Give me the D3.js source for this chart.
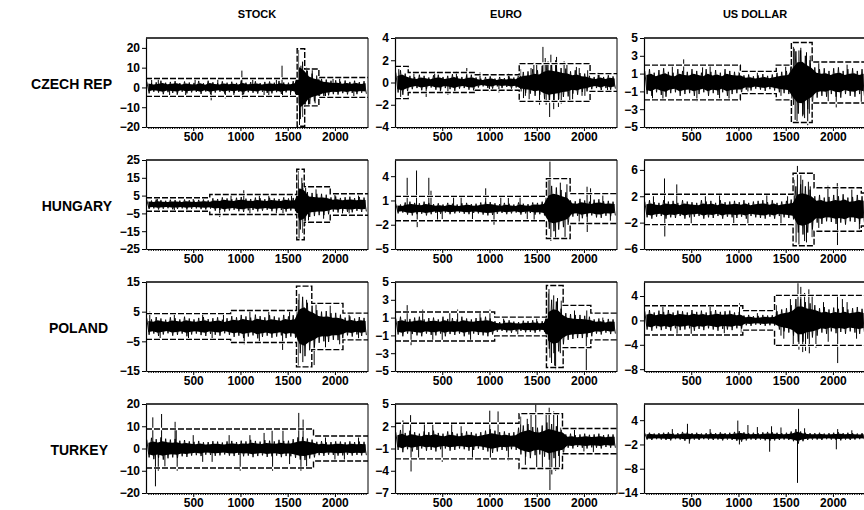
<!DOCTYPE html>
<html>
<head>
<meta charset="utf-8">
<script src="https://cdn.jsdelivr.net/npm/d3@7"></script>
<style>
  body { margin: 0; background: #fff; }
  svg text { font-family: "Liberation Sans", Arial, sans-serif; font-weight: bold; fill: #000; }
</style>
</head>
<body>
<div id="chart"></div>
<script>
// layout of the grid
var columns = ["STOCK", "EURO", "US DOLLAR"];
var rows = ["CZECH REP", "HUNGARY", "POLAND", "TURKEY"];
var xTicks = [500, 1000, 1500, 2000];
var xDomain = [0, 2350];
var binSize = 50; // amplitude arrays: one value per 50 observations

// ---- Czech Republic
var czStockRange = [-20, 25], czStockTicks = [-20, -10, 0, 10, 20];
var czStockBreaks = [1600, 1680, 1830], czStockBands = [4.5, 19.6, 9.3, 5];
var czStockAmp = [3,2.2,2.6,3.4,2.4,2.8,3.2,2.2,3,2.5, 2.3,3.3,2.1,3.4,2.6,2.2,3.1,2.4,2.9,2.3,
  3.5,2.4,2.7,3.1,2.2,2.8,3,2.4,3.3,2.5, 2.4,3.2, 16,13, 8.5,7,6, 4.5,4,3.4,3.6,2.9,3.5,2.8,3.4,2.7,3.2];
var czStockSpikes = [[60,3.8],[130,4.5],[250,-5],[330,-4],[420,-4.5],[520,4],[690,-6.5],[760,4.2],[840,-5.5],
  [930,-4],[1015,8.5],[1020,-5.5],[1130,4],[1250,-4.5],[1300,-5],[1380,4],[1440,11],[1445,-5],[1530,-4.2],
  [1615,19],[1625,-19.5],[1640,11],[1660,-15],[1700,10],[1720,-9],[1760,9],[1790,-8],[1830,7],[1900,-5],
  [1980,4.5],[2050,5],[2200,-4.5]];

var czEuroRange = [-4, 4], czEuroTicks = [-4, -2, 0, 2, 4];
var czEuroBreaks = [140, 850, 1315, 2065], czEuroBands = [1.45, 0.9, 0.7, 1.7, 0.8];
var czEuroAmp = [0.9,1.1,0.8, 0.6,0.5,0.7,0.6,0.45,0.65,0.7,0.5,0.6,0.75,0.55,0.5,0.65,0.7,
  0.45,0.35,0.5,0.55,0.35,0.5,0.4,0.55,0.45, 0.8,0.95,1.0,1.2,1.1,1.5,1.7,1.6,1.5,1.3,1.25,1.0,1.1,0.85,0.8,
  0.6,0.5,0.7,0.5,0.65,0.55];
var czEuroSpikes = [[40,1.2],[60,-1.3],[200,0.9],[330,-1.3],[420,1.0],[480,-0.9],[560,-1.1],[650,1.0],
  [760,1.3],[900,0.9],[1000,-0.8],[1100,-0.9],[1200,0.8],[1330,1.2],[1360,-1.4],[1380,-1.2],[1420,-1.5],
  [1440,1.3],[1470,1.8],[1500,1.6],[1530,-2.0],[1566,3.2],[1590,2.2],[1600,-2.0],[1620,1.9],[1637,-3.1],
  [1650,2.5],[1680,-2.4],[1700,2.0],[1710,2.3],[1730,-2.2],[1760,-1.9],[1790,1.9],[1820,1.7],[1850,-1.7],
  [1880,-1.5],[1920,1.4],[1950,1.3],[1980,-1.2],[2010,-1.2],[2040,1.1],[2150,0.9],[2250,-0.8]];

var czUsdRange = [-5, 5], czUsdTicks = [-5, -3, -1, 1, 3, 5];
var czUsdBreaks = [1020, 1400, 1560, 1780], czUsdBands = [1.95, 1.25, 1.95, 4.5, 2.3];
var czUsdAmp = [1.3,1.5,1.1,1.4,1.6,1.2,1.1,1.5,1.3,1.2, 1.5,1.3,1.1,1.5,1.2,1.4,1.1,1.5,1.3,1.2,
  1.2, 0.8,0.9,0.7,0.8,0.95,0.75,0.9, 1.1,1.2,1.3, 2.5,3.5,3.6,3.0,2.5,
  1.7,1.5,1.6,1.3,1.6,1.7,1.3,1.5,1.6,1.3,1.5];
var czUsdSpikes = [[90,-1.8],[200,-2.0],[300,1.8],[420,2.6],[560,-2.1],[620,1.7],[700,1.9],[800,-1.8],[900,-2.0],
  [1100,-1.0],[1200,1.3],[1450,-1.5],[1500,1.8],[1565,-3.5],[1580,4.0],[1590,3.8],[1600,-4.2],[1620,-4.4],
  [1640,3.6],[1660,3.9],[1680,-3.8],[1700,-4.0],[1720,3.4],[1733,-4.8],[1750,-3.5],[1760,3.0],[1850,2.2],
  [1950,-2.1],[2035,-2.8],[2150,2.0],[2300,-2.2]];

// ---- Hungary
var huStockRange = [-25, 25], huStockTicks = [-25, -15, -5, 5, 15, 25];
var huStockBreaks = [675, 1596, 1675, 1950], huStockBands = [3.8, 5.6, 19.8, 10, 6];
var huStockAmp = [2.5,2.2,2.8,2.4,2.1,2.7,2.5,2.2,2.8,2.4,2.2,2.6,2.8,2.3,
  3.5,3.1,4,3.4,3,3.8,4.2,3.3,3.1,3.9,3.5,3,3.8,3.4,3.1,4,3.4,3.7,
  14,12, 7,6.5,6,6,5.5, 4,4.5,3.7,4.1,4.4,3.6,4.2,3.9];
var huStockSpikes = [[120,3.5],[300,-3.8],[500,3.5],[780,-7],[900,6],[1035,8],[1100,-6],[1200,5],[1300,5],
  [1380,-5.5],[1450,-6],[1540,5],[1610,19],[1620,-20],[1650,15],[1660,-16],[1690,10],[1720,-9],[1800,8.5],
  [1880,-8],[2000,5.5],[2080,-5],[2150,-5],[2250,5]];

var huEuroRange = [-5, 6], huEuroTicks = [-5, -2, 1, 4];
var huEuroBreaks = [1603, 1854], huEuroBands = [1.5, 3.7, 1.85];
var huEuroAmp = [0.6,0.5,0.75,0.85,0.7,0.65,0.85,0.7,0.55,0.65, 0.5,0.7,0.6,0.5,0.65,0.7,0.55,0.6,0.75,0.85,
  0.8,0.65,0.55,0.7,0.6,0.5,0.75,0.6,0.55,0.75, 0.7,0.85, 2.5,2.8,2.6,2.3,2.0,
  1.0,0.9,1.2,1.0,0.85,1.1,1.15,0.9,0.95,0.85];
var huEuroSpikes = [[129,3.8],[228,4.7],[235,-2.3],[358,3.8],[381,2.2],[450,-1.4],[500,-1.3],[620,1.6],
  [700,1.5],[820,-1.3],[960,2.5],[1048,-2.0],[1120,1.4],[1200,1.3],[1324,1.4],[1400,-1.3],[1473,-1.6],
  [1620,3.5],[1640,5.8],[1650,-4.0],[1700,-3.8],[1750,3.2],[1800,-3.5],[1820,3.0],[1950,-1.6],[2033,2.7],
  [2035,-2.9],[2070,2.5],[2200,1.6],[2280,-1.5]];

var huUsdRange = [-6, 7.5], huUsdTicks = [-6, -2, 2, 6];
var huUsdBreaks = [1578, 1800, 2300], huUsdBands = [2.3, 5.5, 3.3, 2.5];
var huUsdAmp = [1.2,1.4,1.1,1.0,1.4,1.2,1.3,1.0,1.4,1.2, 1.1,1.0,1.4,1.2,1.3,1.0,1.4,1.1,1.2,1.3,
  1.1,1.4,1.0,1.2,1.3,1.4,1.1,1.4,1.0,1.2, 1.3,1.5, 3.5,3.8,3.5,3.0,
  2.0,2.2,1.8,1.9,2.2,2.0,2.3,1.8,1.9,2.2,2.0];
var huUsdSpikes = [[100,2.0],[217,4.7],[220,-4.1],[347,3.8],[500,-2.5],[650,2.0],[800,2.5],[950,-2.1],
  [1100,-2.4],[1300,2.2],[1450,-2.3],[1520,2.0],[1590,4.5],[1610,-5],[1624,6.6],[1640,-5.5],[1660,5.2],
  [1680,4.5],[1700,-4.8],[1720,-5.0],[1740,4.2],[1760,3.5],[1780,-4.2],[1850,-2.8],[1947,3.6],[2046,4.0],
  [2048,-5.4],[2200,3.0],[2280,-3.0]];

// ---- Poland
var plStockRange = [-15, 15], plStockTicks = [-15, -5, 5, 15];
var plStockBreaks = [896, 1593, 1755, 2085], plStockBands = [4.35, 5.4, 13.6, 7.8, 4.5];
var plStockAmp = [2.8,2.4,3.2,2.7,2.3,3.1,2.8,2.4,3.3,2.7, 2.4,2.9,3.2,2.5,2.8,3.1,2.3,2.8,
  3.5,3.1, 3.9,3.4,3,4,3.5,3.1,3.8,3.4,3,3.9, 3.4,3.8, 9,10,8,7, 5.5,5,5.2,4.5,4.6,4, 3,3.4,2.7,3.2,2.9];
var plStockSpikes = [[40,5],[150,-4],[300,4.5],[450,-4],[600,4.5],[700,-4.5],[820,4],[1040,-6],[1100,5.5],
  [1200,-5],[1300,5],[1446,-7.9],[1520,5],[1610,-13.5],[1620,11],[1660,-12],[1700,9],[1780,-13],[1800,8],
  [1900,-7],[1950,7],[2050,-6],[2150,4],[2250,-4]];

var plEuroRange = [-5, 5], plEuroTicks = [-5, -3, -1, 1, 3, 5];
var plEuroBreaks = [1055, 1603, 1780, 2073], plEuroBands = [1.63, 1.05, 4.6, 2.37, 1.5];
var plEuroAmp = [0.9,1.1,0.8,0.85,1.0,1.1,0.8,0.95,1.0,0.8, 1.1,0.85,0.95,0.8,1.1,0.9,0.8,0.95,1.0,1.1,
  0.9, 0.6,0.5,0.65,0.7,0.55,0.5,0.65,0.6,0.7,0.55,0.6, 2.5,3.0,2.8,2.0, 1.5,1.4,1.3,1.3,1.2,1.1,
  0.8,0.9,0.7,0.85,0.8];
var plEuroSpikes = [[129,2.4],[170,-2.1],[293,1.9],[400,-1.6],[500,-1.6],[580,1.6],[663,1.9],[800,-1.7],
  [900,1.7],[1005,1.9],[1150,0.9],[1300,-0.9],[1500,0.9],[1610,-3.9],[1620,3.7],[1630,4.2],[1640,-3.5],
  [1657,-4.1],[1680,3.5],[1690,-4.4],[1700,-4.8],[1720,3.2],[1750,-3.0],[1760,2.9],[1900,1.8],[2025,-4.9],
  [2030,1.8],[2200,1.0]];

var plUsdRange = [-8.3, 6.3], plUsdTicks = [-8, -4, 0, 4];
var plUsdBreaks = [1046, 1382], plUsdBands = [2.4, 1.6, 4.1];
var plUsdAmp = [1.5,1.7,1.3,1.6,1.4,1.7,1.3,1.6,1.5,1.3, 1.7,1.4,1.6,1.3,1.5,1.7,1.4,1.5,1.6,1.3,
  1.4, 0.8,0.9,0.7,0.75,0.9,0.8,0.85, 1.5,1.8,2.0,2.5, 3.5,3.5,3.0,2.8,2.5,
  2.0,2.2,1.8,2.1,1.9,2.2,1.8,2.0,2.2,1.9];
var plUsdSpikes = [[200,2.3],[350,-2.2],[500,-2.5],[700,2.2],[850,-2.1],[1011,2.8],[1030,-2.0],[1200,1.2],
  [1400,2.5],[1450,-2.5],[1480,-3],[1550,3.5],[1580,-4],[1630,6.1],[1640,-4.8],[1660,5.5],[1680,-5.2],
  [1700,4.5],[1710,-5],[1745,5.1],[1750,-5.4],[1780,4],[1820,-4.5],[1900,3],[1950,-3.5],[2048,4.2],
  [2050,-7.0],[2100,3.5],[2150,3.0],[2250,-3.0]];

// ---- Turkey
var trStockRange = [-20, 20], trStockTicks = [-20, -10, 0, 10, 20];
var trStockBreaks = [1773], trStockBands = [8.75, 5.65];
var trStockAmp = [4,4.8,4.2,5,4.4,4,4.3,3.5,3.8,3.2, 3,3.4,2.8,2.9,3.3,3.1,2.7,3.2,3.4,2.9,
  3.5,3.2,3.9,3.4,3.1,3.8,3.5,3.2,3.9,3.4, 3.5,4.2, 5,5.2,4.5,4, 3,3.3,2.8,2.9,3.2,3.1,2.8,3.2,2.9,3.1,3];
var trStockSpikes = [[72,14],[100,-17],[130,-10],[165,15.5],[200,-8],[308,12],[320,9],[330,-10],[500,6],
  [600,-6],[700,-6],[880,6],[997,-10],[1100,6],[1250,7],[1335,8],[1340,-10],[1450,8],[1520,-7],[1617,16],
  [1640,-10],[1663,13],[1700,-8],[1900,5],[2000,-5],[2100,-5],[2250,5]];

var trEuroRange = [-7, 5], trEuroTicks = [-7, -4, -1, 2, 5];
var trEuroBreaks = [1313, 1773], trEuroBands = [2.4, 3.7, 1.7];
var trEuroAmp = [1.2,1.5,1.1,1.4,1.2,1.0,1.3,1.2,1.4,1.1, 1.0,1.3,1.2,1.0,1.1,1.3,1.2,1.0,1.2,1.4,
  1.6,1.4,1.2,1.3,1.1,1.2, 1.8,2.1,2.3,1.9,1.8,2.1,2.5,2.3,2.0,1.8,
  0.9,1.0,0.8,0.9,1.0,0.85,0.9,1.0,0.8,0.9,0.9];
var trEuroSpikes = [[84,2.8],[165,3.5],[170,-4.1],[250,-2.5],[311,2.3],[400,2.2],[500,-2.8],[600,2.3],
  [700,2.0],[820,-2.3],[1003,4.1],[1010,-2.5],[1091,4.0],[1200,-2.6],[1330,3.3],[1380,-3.2],[1400,3.0],
  [1440,3.6],[1490,4.9],[1500,-3.5],[1560,-3.8],[1600,3.8],[1632,4.5],[1640,-6.6],[1660,-4.5],[1680,4],
  [1700,-4.0],[1720,3.5],[1740,-3.5],[1900,1.5],[2000,-1.4],[2100,-1.5]];

var trUsdRange = [-14, 8], trUsdTicks = [-14, -8, -2, 4];
var trUsdBreaks = [], trUsdBands = [];
var trUsdAmp = [0.8,0.9,0.7,0.8,0.9,1.0,0.7,0.8,1.1,1.0, 0.8,0.9,0.7,0.8,0.9,0.8,1.0,0.8,0.9,1.1,
  1.3,1.0,0.8,0.9,0.8,1.0,1.1,1.0,0.9,0.8, 0.9,1.2, 1.8,1.2,0.9,0.8,
  0.8,0.9,0.7,0.8,0.9,1.0,0.8,0.9,0.8,0.7,0.8];
var trUsdSpikes = [[300,1.8],[460,3.1],[480,-1.8],[700,1.8],[993,3.9],[1010,-2],[1100,2.8],[1200,2.3],
  [1330,-3.8],[1350,2.5],[1450,2.2],[1625,-11.5],[1636,6.8],[1700,2],[2036,-3.2],[2050,1.8],[2200,1.5]];

var panels = [
  [czStockRange, czStockTicks, czStockBreaks, czStockBands, czStockAmp, czStockSpikes],
  [czEuroRange, czEuroTicks, czEuroBreaks, czEuroBands, czEuroAmp, czEuroSpikes],
  [czUsdRange, czUsdTicks, czUsdBreaks, czUsdBands, czUsdAmp, czUsdSpikes],
  [huStockRange, huStockTicks, huStockBreaks, huStockBands, huStockAmp, huStockSpikes],
  [huEuroRange, huEuroTicks, huEuroBreaks, huEuroBands, huEuroAmp, huEuroSpikes],
  [huUsdRange, huUsdTicks, huUsdBreaks, huUsdBands, huUsdAmp, huUsdSpikes],
  [plStockRange, plStockTicks, plStockBreaks, plStockBands, plStockAmp, plStockSpikes],
  [plEuroRange, plEuroTicks, plEuroBreaks, plEuroBands, plEuroAmp, plEuroSpikes],
  [plUsdRange, plUsdTicks, plUsdBreaks, plUsdBands, plUsdAmp, plUsdSpikes],
  [trStockRange, trStockTicks, trStockBreaks, trStockBands, trStockAmp, trStockSpikes],
  [trEuroRange, trEuroTicks, trEuroBreaks, trEuroBands, trEuroAmp, trEuroSpikes],
  [trUsdRange, trUsdTicks, trUsdBreaks, trUsdBands, trUsdAmp, trUsdSpikes]
].map(function(p, i) {
  return {row: Math.floor(i / 3), col: i % 3, range: p[0], ticks: p[1], breaks: p[2], bands: p[3], amp: p[4], spikes: p[5]};
});

var W = 864, H = 510;
var colX = [146, 395, 644], rowY = [38, 160, 282, 404];
var panelW = 222, panelH = 89;

var svg = d3.select("#chart").append("svg")
    .attr("width", W)
    .attr("height", H);

// column titles
svg.selectAll(".coltitle")
  .data(columns)
  .enter().append("text")
    .attr("x", function(d, i) { return colX[i] + panelW / 2; })
    .attr("y", 18)
    .attr("text-anchor", "middle")
    .style("font-size", "11px")
    .text(function(d) { return d; });

// row labels
svg.selectAll(".rowlabel")
  .data(rows)
  .enter().append("text")
    .attr("x", function(d, i) { return i < 2 ? 112 : 108; })
    .attr("y", function(d, i) { return rowY[i] + panelH / 2 + 6; })
    .attr("text-anchor", "end")
    .style("font-size", "14px")
    .text(function(d) { return d; });

var x = d3.scaleLinear().domain(xDomain).range([0, panelW]);

panels.forEach(function(p, i) {
  var g = svg.append("g")
      .attr("transform", "translate(" + colX[p.col] + "," + rowY[p.row] + ")");
  var y = d3.scaleLinear().domain(p.range).range([panelH, 0]);

  g.append("clipPath").attr("id", "clip" + i)
    .append("rect").attr("width", panelW).attr("height", panelH);
  var body = g.append("g").attr("clip-path", "url(#clip" + i + ")");

  // envelope of the series: solid core plus a stroke through each bin's high and low
  var env = p.amp.map(function(a, k) { return {x: k * binSize + binSize / 2, a: a}; });
  body.append("path")
    .datum(env)
    .attr("fill", "#000")
    .attr("d", d3.area()
      .x(function(d) { return x(d.x); })
      .y0(function(d) { return y(-0.65 * d.a); })
      .y1(function(d) { return y(0.65 * d.a); }));

  var zig = [];
  p.amp.forEach(function(a, k) {
    zig.push([k * binSize + 8, a]);
    zig.push([k * binSize + 33, -a]);
  });
  body.append("path")
    .datum(zig)
    .attr("fill", "none")
    .attr("stroke", "#000")
    .attr("stroke-width", 0.9)
    .attr("d", d3.line()
      .x(function(d) { return x(d[0]); })
      .y(function(d) { return y(d[1]); }));

  // single large moves
  body.selectAll(".spike")
    .data(p.spikes)
    .enter().append("line")
      .attr("x1", function(d) { return x(d[0]); })
      .attr("x2", function(d) { return x(d[0]); })
      .attr("y1", y(0))
      .attr("y2", function(d) { return y(d[1]); })
      .attr("stroke", "#000")
      .attr("stroke-width", 1);

  // volatility bands (step lines)
  if (p.bands.length) {
    var pts = [{x: xDomain[0], h: p.bands[0]}];
    p.breaks.forEach(function(b, k) { pts.push({x: b, h: p.bands[k + 1]}); });
    pts.push({x: xDomain[1], h: p.bands[p.bands.length - 1]});
    [1, -1].forEach(function(s) {
      var line = d3.line().curve(d3.curveStepAfter)
        .x(function(d) { return x(d.x); })
        .y(function(d) { return y(s * d.h); });
      body.append("path").datum(pts)
        .attr("d", line).attr("fill", "none")
        .attr("stroke", "#fff").attr("stroke-width", 2.6);
      body.append("path").datum(pts)
        .attr("d", line).attr("fill", "none")
        .attr("stroke", "#000").attr("stroke-width", 1.4)
        .attr("stroke-dasharray", "6,2");
    });
  }

  // frame
  g.append("line").attr("x1", 0).attr("x2", panelW).attr("y1", 0).attr("y2", 0)
    .attr("stroke", "#000").attr("stroke-width", 1.5);
  g.append("line").attr("x1", panelW).attr("x2", panelW).attr("y1", 0).attr("y2", panelH)
    .attr("stroke", "#000").attr("stroke-width", 1);

  // minor x ticks
  g.append("g")
    .attr("transform", "translate(0," + panelH + ")")
    .call(d3.axisBottom(x).tickValues(d3.range(25, xDomain[1], 25)).tickSize(2).tickFormat(""))
    .call(function(a) { a.select(".domain").remove(); });

  var xa = g.append("g")
    .attr("transform", "translate(0," + panelH + ")")
    .call(d3.axisBottom(x).tickValues(xTicks).tickSize(4).tickSizeOuter(0).tickPadding(1)
      .tickFormat(d3.format("d")));
  xa.selectAll("text").style("font-size", "12px");

  var ya = g.append("g")
    .call(d3.axisLeft(y).tickValues(p.ticks).tickSize(4).tickSizeOuter(0).tickPadding(2)
      .tickFormat(d3.format("d")));
  ya.selectAll("text").style("font-size", "12px");

  g.selectAll(".domain").attr("stroke-width", 1.2);
});
</script>
</body>
</html>
